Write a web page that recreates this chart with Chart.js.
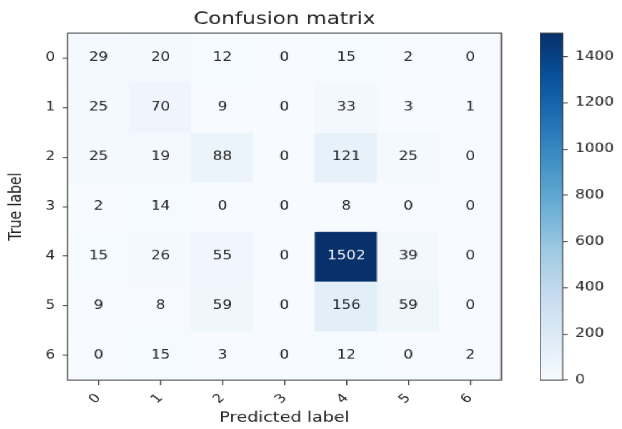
<!DOCTYPE html>
<html>
<head>
<meta charset="utf-8">
<script src="https://cdn.jsdelivr.net/npm/chart.js@4.4.0/dist/chart.umd.min.js"></script>
<style>
  body { margin: 0; background: #fff; overflow: hidden; }
  /* the source figure is stretched sideways, cells are 1.25x wider than tall */
  #wrap { position: relative; width: 498px; height: 429px; transform: scaleX(1.25); transform-origin: 0 0; }
  #matrix { position: absolute; left: 0; top: 0; }
  #cbar { position: absolute; left: 432px; top: 0; }
</style>
</head>
<body>
<div id="wrap">
  <canvas id="matrix" style="width:420px;height:429px"></canvas>
  <canvas id="cbar" style="width:66px;height:429px"></canvas>
</div>
<script>
var classLabels = ['0', '1', '2', '3', '4', '5', '6'];
// rows = true label, columns = predicted label
var row0 = [29, 20, 12, 0, 15, 2, 0];
var row1 = [25, 70, 9, 0, 33, 3, 1];
var row2 = [25, 19, 88, 0, 121, 25, 0];
var row3 = [2, 14, 0, 0, 8, 0, 0];
var row4 = [15, 26, 55, 0, 1502, 39, 0];
var row5 = [9, 8, 59, 0, 156, 59, 0];
var row6 = [0, 15, 3, 0, 12, 0, 2];
var matrix = [row0, row1, row2, row3, row4, row5, row6];
var colorbarTicks = [0, 200, 400, 600, 800, 1000, 1200, 1400];

// matplotlib "Blues"
var blues = ['#f7fbff', '#deebf7', '#c6dbef', '#9ecae1', '#6baed6', '#4292c6', '#2171b5', '#08519c', '#08306b'];
var vmax = Math.max.apply(null, matrix.map(function(r) { return Math.max.apply(null, r); }));

function hexRgb(h) {
  return [parseInt(h.substr(1, 2), 16), parseInt(h.substr(3, 2), 16), parseInt(h.substr(5, 2), 16)];
}
function blueAt(t) {
  t = Math.max(0, Math.min(1, t));
  var p = t * (blues.length - 1);
  var i = Math.min(Math.floor(p), blues.length - 2);
  var f = p - i;
  var a = hexRgb(blues[i]), b = hexRgb(blues[i + 1]);
  return 'rgb(' + [0, 1, 2].map(function(k) { return Math.round(a[k] + (b[k] - a[k]) * f); }).join(',') + ')';
}

var font = '"DejaVu Sans", sans-serif';
var ink = '#222';
var spine = '#444';

var frame = {
  id: 'frame',
  afterDraw: function(chart) {
    var a = chart.chartArea, c = chart.ctx;
    c.save();
    c.strokeStyle = spine;
    c.lineWidth = 1;
    c.strokeRect(a.left, a.top, a.right - a.left, a.bottom - a.top);
    c.restore();
  }
};

var cellText = {
  id: 'cellText',
  afterDatasetsDraw: function(chart) {
    var c = chart.ctx, xs = chart.scales.x, ys = chart.scales.y;
    c.save();
    c.font = '12px ' + font;
    c.textAlign = 'center';
    c.textBaseline = 'middle';
    matrix.forEach(function(row, r) {
      row.forEach(function(v, col) {
        c.fillStyle = v > vmax / 2 ? '#ffffff' : ink;
        c.fillText(String(v), xs.getPixelForValue(col), ys.getPixelForValue(r));
      });
    });
    c.restore();
  }
};

// one floating-bar dataset per true label, each bar spans its row
var datasets = matrix.map(function(row, r) {
  return {
    label: 'True ' + classLabels[r],
    data: row.map(function() { return [r - 0.5, r + 0.5]; }),
    backgroundColor: row.map(function(v) { return blueAt(v / vmax); }),
    borderWidth: 0,
    barPercentage: 1,
    categoryPercentage: 1,
    inflateAmount: 0.5
  };
});

var tickGrid = { display: true, drawOnChartArea: false, drawTicks: true, tickLength: 5, color: spine, offset: false };

new Chart(document.getElementById('matrix'), {
  type: 'bar',
  data: { labels: classLabels, datasets: datasets },
  options: {
    responsive: false,
    animation: false,
    devicePixelRatio: 1.25,
    layout: { padding: { right: 19 } },
    plugins: {
      legend: { display: false },
      tooltip: { enabled: false },
      title: {
        display: true,
        text: 'Confusion matrix',
        fullSize: false,
        color: ink,
        font: { family: font, size: 17, weight: 'normal' },
        padding: { top: 9, bottom: 3.6 }
      }
    },
    scales: {
      x: {
        stacked: true,
        grid: tickGrid,
        border: { display: false },
        ticks: { color: ink, font: { family: font, size: 12 }, minRotation: 45, maxRotation: 45, padding: 6 },
        title: { display: true, text: 'Predicted label', color: ink, font: { family: font, size: 14 }, padding: { top: 0, bottom: 3 } },
        afterFit: function(s) { s.height = 49; }
      },
      y: {
        type: 'linear',
        min: -0.5,
        max: 6.5,
        reverse: true,
        grid: Object.assign({}, tickGrid, { tickLength: 4 }),
        border: { display: false },
        afterBuildTicks: function(s) { s.ticks = classLabels.map(function(_, i) { return { value: i }; }); },
        ticks: {
          color: ink,
          font: { family: font, size: 12 },
          padding: 6,
          callback: function(v) { return classLabels[v]; }
        },
        title: { display: true, text: 'True label', color: ink, font: { family: font, size: 14 }, padding: { top: 5, bottom: 0 } },
        afterFit: function(s) { s.width = 54; }
      }
    }
  },
  plugins: [cellText, frame]
});

new Chart(document.getElementById('cbar'), {
  type: 'bar',
  data: {
    labels: [''],
    datasets: [{
      data: [[0, vmax]],
      borderWidth: 0,
      barPercentage: 1,
      categoryPercentage: 1,
      backgroundColor: function(context) {
        var area = context.chart.chartArea;
        if (!area) return blues[0];
        var g = context.chart.ctx.createLinearGradient(0, area.bottom, 0, area.top);
        blues.forEach(function(col, i) { g.addColorStop(i / (blues.length - 1), col); });
        return g;
      }
    }]
  },
  options: {
    responsive: false,
    animation: false,
    devicePixelRatio: 1.25,
    layout: { padding: { top: 33, bottom: 49 } },
    plugins: { legend: { display: false }, tooltip: { enabled: false } },
    scales: {
      x: { display: false },
      y: {
        position: 'right',
        min: 0,
        max: vmax,
        grid: Object.assign({}, tickGrid, { tickLength: 4 }),
        border: { display: false },
        afterBuildTicks: function(s) { s.ticks = colorbarTicks.map(function(v) { return { value: v }; }); },
        ticks: {
          color: ink,
          font: { family: font, size: 12 },
          padding: 6,
          callback: function(v) { return String(v); }
        },
        afterFit: function(s) { s.width = 48; }
      }
    }
  },
  plugins: [frame]
});
</script>
</body>
</html>
